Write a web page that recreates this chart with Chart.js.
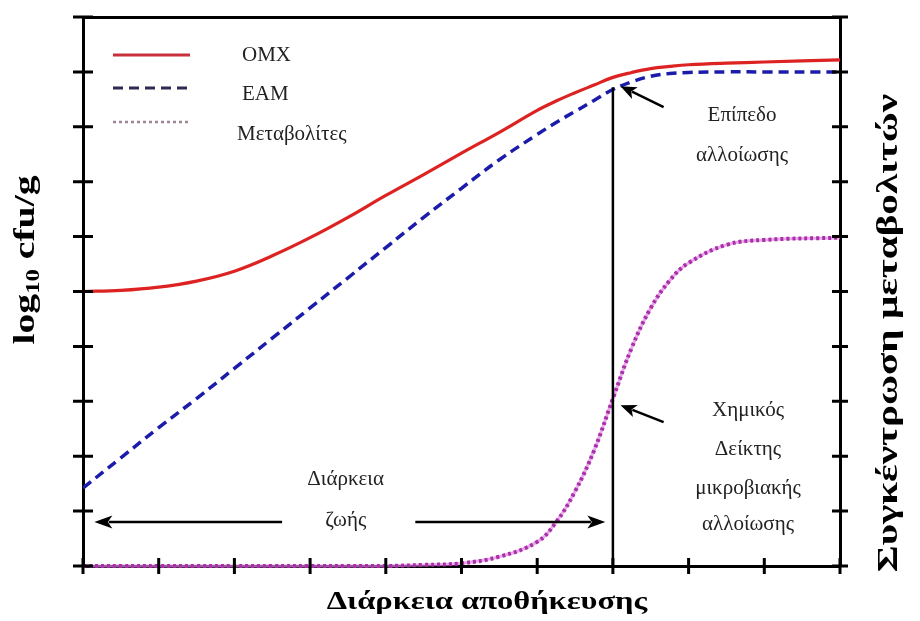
<!DOCTYPE html>
<html>
<head>
<meta charset="utf-8">
<script src="https://cdn.jsdelivr.net/npm/chart.js@4.4.1/dist/chart.umd.min.js"></script>
<style>
  html, body { margin: 0; padding: 0; background: #fff; }
  #wrap { width: 920px; height: 621px; }
</style>
</head>
<body>
<div id="wrap"><canvas id="spoilageChart"></canvas></div>
<script>
// Storage time (arbitrary units), shared by all three curves
var storageTime = [0, 0.5, 1, 1.5, 2, 2.5, 3, 3.5, 4, 4.5, 5, 5.5, 6, 6.25, 6.5, 6.75, 7, 7.25, 7.5, 7.75, 8, 8.5, 9, 10];
// Total count (log10 cfu/g)
var omxValues = [5.0, 5.02, 5.08, 5.19, 5.37, 5.65, 5.98, 6.35, 6.75, 7.13, 7.52, 7.9, 8.3, 8.47, 8.62, 8.76, 8.9, 8.99, 9.06, 9.1, 9.13, 9.16, 9.18, 9.22];
// Specific spoilage organisms (log10 cfu/g)
var eamValues = [1.42, 1.97, 2.52, 3.05, 3.6, 4.15, 4.7, 5.25, 5.8, 6.35, 6.88, 7.4, 7.86, 8.08, 8.28, 8.48, 8.68, 8.82, 8.92, 8.97, 8.99, 9.0, 9.0, 9.0];
// Metabolite concentration (right axis)
var metaboliteValues = [0, 0, 0, 0, 0, 0, 0, 0, 0, 0.02, 0.05, 0.17, 0.44, 0.8, 1.36, 2.1, 3.05, 3.98, 4.7, 5.2, 5.52, 5.85, 5.94, 5.98];
// Tick positions on every axis
var axisTicks = [0, 1, 2, 3, 4, 5, 6, 7, 8, 9, 10];

var seriesLabels = ['ΟΜΧ', 'ΕΑΜ', 'Μεταβολίτες'];
var spoilageTime = 7;

function toPoints(xs, ys) {
    return xs.map(function (x, i) { return { x: x, y: ys[i] }; });
}

var SERIF = '"Liberation Serif", "Times New Roman", serif';

// Text helper: optional rotation and stretch along the text direction
function drawText(ctx, text, px, py, font, angle, stretch, color) {
    ctx.save();
    ctx.translate(px, py);
    if (angle) ctx.rotate(angle);
    ctx.scale(stretch || 1, 1);
    ctx.font = font;
    ctx.fillStyle = color || '#222';
    ctx.textAlign = 'center';
    ctx.textBaseline = 'middle';
    ctx.fillText(text, 0, 0);
    ctx.restore();
}

function drawArrow(ctx, x1, y1, x2, y2, headLen, headWidth) {
    var ang = Math.atan2(y2 - y1, x2 - x1);
    ctx.beginPath();
    ctx.moveTo(x1, y1);
    ctx.lineTo(x2 - Math.cos(ang) * headLen * 0.8, y2 - Math.sin(ang) * headLen * 0.8);
    ctx.stroke();
    ctx.save();
    ctx.translate(x2, y2);
    ctx.rotate(ang);
    ctx.beginPath();
    ctx.moveTo(0, 0);
    ctx.lineTo(-headLen, -headWidth / 2);
    ctx.lineTo(-headLen * 0.75, 0);
    ctx.lineTo(-headLen, headWidth / 2);
    ctx.closePath();
    ctx.fill();
    ctx.restore();
}

// Frame ticks, annotations, legend and axis titles
var decorPlugin = {
    id: 'decor',
    afterDraw: function (chart) {
        var ctx = chart.ctx;
        var xs = chart.scales.x, ys = chart.scales.y;
        var area = chart.chartArea;
        ctx.save();
        ctx.strokeStyle = '#000';
        ctx.fillStyle = '#000';
        ctx.lineWidth = 3;

        // tick marks crossing the frame
        axisTicks.forEach(function (v) {
            var py = ys.getPixelForValue(v);
            var px = xs.getPixelForValue(v);
            ctx.beginPath();
            ctx.moveTo(area.left - 10, py); ctx.lineTo(area.left + 10, py);
            ctx.moveTo(area.right - 8, py); ctx.lineTo(area.right + 8, py);
            ctx.moveTo(px, area.bottom - 8); ctx.lineTo(px, area.bottom + 8);
            ctx.stroke();
        });

        // vertical line at the spoilage level
        var sx = xs.getPixelForValue(spoilageTime);
        ctx.lineWidth = 2.5;
        ctx.beginPath();
        ctx.moveTo(sx, area.bottom);
        ctx.lineTo(sx, ys.getPixelForValue(8.72));
        ctx.stroke();

        // pointer arrows
        drawArrow(ctx, xs.getPixelForValue(7.67), ys.getPixelForValue(8.36),
            xs.getPixelForValue(7.1), ys.getPixelForValue(8.74), 16, 13);
        drawArrow(ctx, xs.getPixelForValue(7.67), ys.getPixelForValue(2.62),
            xs.getPixelForValue(7.1), ys.getPixelForValue(2.93), 16, 13);

        // shelf-life arrows
        var lifeY = ys.getPixelForValue(0.8);
        drawArrow(ctx, xs.getPixelForValue(2.63), lifeY, xs.getPixelForValue(0.15), lifeY, 18, 13);
        drawArrow(ctx, xs.getPixelForValue(4.39), lifeY, xs.getPixelForValue(6.9), lifeY, 18, 13);

        // annotation text
        var f = '21px ' + SERIF;
        drawText(ctx, 'Διάρκεια', xs.getPixelForValue(3.47), ys.getPixelForValue(1.57), f);
        drawText(ctx, 'ζωής', xs.getPixelForValue(3.47), lifeY - 2, f);
        drawText(ctx, 'Επίπεδο', 742, 115, f);
        drawText(ctx, 'αλλοίωσης', 742, 155, f);
        drawText(ctx, 'Χημικός', 748, 410, f);
        drawText(ctx, 'Δείκτης', 748, 449, f);
        drawText(ctx, 'μικροβιακής', 748, 488, f);
        drawText(ctx, 'αλλοίωσης', 748, 524, f);

        // legend
        var ds = chart.data.datasets;
        var legendRows = [55, 88, 122];
        var textRows = [55, 94, 134];
        for (var i = 0; i < 3; i++) {
            ctx.save();
            ctx.strokeStyle = ds[i].legendColor;
            ctx.lineWidth = ds[i].legendWidth;
            ctx.setLineDash(ds[i].legendDash || []);
            ctx.beginPath();
            ctx.moveTo(113, legendRows[i]);
            ctx.lineTo(190, legendRows[i]);
            ctx.stroke();
            ctx.restore();
            ctx.save();
            ctx.font = f;
            ctx.fillStyle = '#222';
            ctx.textBaseline = 'middle';
            ctx.fillText(seriesLabels[i], i === 2 ? 237 : 242, textRows[i]);
            ctx.restore();
        }

        // axis titles
        drawText(ctx, 'Διάρκεια αποθήκευσης', 487, 603, 'bold 25px ' + SERIF, 0, 1.3, '#000');
        drawText(ctx, 'Συγκέντρωση μεταβολιτών', 889, 333, 'bold 30px ' + SERIF, -Math.PI / 2, 1.37, '#000');

        // log10 cfu/g with subscript
        ctx.save();
        ctx.translate(27, 260);
        ctx.rotate(-Math.PI / 2);
        ctx.scale(1.37, 1);
        ctx.fillStyle = '#000';
        ctx.textBaseline = 'middle';
        var big = 'bold 29px ' + SERIF, small = 'bold 18px ' + SERIF;
        ctx.font = big; var w1 = ctx.measureText('log').width, w3 = ctx.measureText(' cfu/g').width;
        ctx.font = small; var w2 = ctx.measureText('10').width;
        var start = -(w1 + w2 + w3) / 2;
        ctx.font = big; ctx.fillText('log', start, 0);
        ctx.font = small; ctx.fillText('10', start + w1, 7);
        ctx.font = big; ctx.fillText(' cfu/g', start + w1 + w2, 0);
        ctx.restore();

        ctx.restore();
    }
};

var frameAxis = {
    type: 'linear', min: 0, max: 10,
    ticks: { display: false, stepSize: 1 },
    grid: { drawTicks: false, drawOnChartArea: false },
    border: { color: '#000', width: 3 }
};

var ctx = document.getElementById('spoilageChart').getContext('2d');
new Chart(ctx, {
    type: 'line',
    data: {
        datasets: [{
            label: seriesLabels[0],
            data: toPoints(storageTime, omxValues),
            borderColor: '#dd2222',
            borderWidth: 3.2,
            legendColor: '#c8303c', legendWidth: 3
        }, {
            label: seriesLabels[1],
            data: toPoints(storageTime, eamValues),
            borderColor: '#1c1caa',
            borderWidth: 3.5,
            borderDash: [10, 6],
            legendColor: '#2c2c50', legendWidth: 3, legendDash: [10, 6]
        }, {
            label: seriesLabels[2],
            data: toPoints(storageTime, metaboliteValues),
            yAxisID: 'y1',
            borderColor: '#a830a8',
            borderWidth: 4,
            borderDash: [3, 3],
            clip: 6,
            legendColor: '#a08594', legendWidth: 2.5, legendDash: [3, 3]
        }, {
            // soft pink trace beneath the dotted metabolite curve
            label: '',
            data: toPoints(storageTime, metaboliteValues),
            yAxisID: 'y1',
            borderColor: 'rgba(225, 130, 225, 0.7)',
            borderWidth: 3,
            clip: 6
        }]
    },
    options: {
        responsive: true,
        maintainAspectRatio: false,
        animation: false,
        layout: { padding: { left: 83, right: 80, top: 17, bottom: 55 } },
        plugins: { legend: { display: false }, tooltip: { enabled: false } },
        elements: {
            point: { radius: 0 },
            line: { tension: 0.4 }
        },
        scales: {
            x: Object.assign({ position: 'bottom' }, frameAxis),
            xTop: Object.assign({ position: 'top' }, frameAxis),
            y: Object.assign({ position: 'left' }, frameAxis),
            y1: Object.assign({ position: 'right' }, frameAxis)
        }
    },
    plugins: [decorPlugin]
});
</script>
</body>
</html>
